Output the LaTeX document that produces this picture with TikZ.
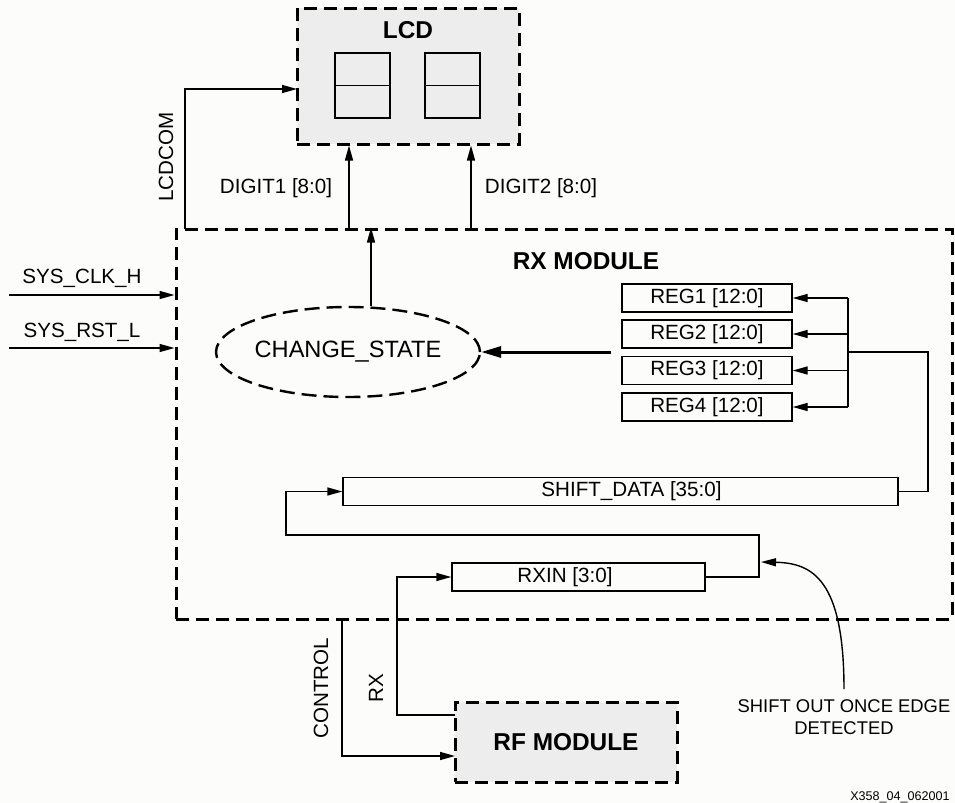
\documentclass[tikz,border=0pt]{standalone}
\usepackage{fontspec}
\setmainfont{Liberation Sans}
\usetikzlibrary{arrows.meta,shapes.geometric}
\definecolor{boxgray}{RGB}{237,237,237}
\definecolor{paper}{RGB}{252,252,250}
\tikzset{
  sig/.style={line width=0.7pt,-{Triangle[length=7.5pt,width=4pt]}},
  wire/.style={line width=0.7pt},
  blk/.style={draw,line width=1.5pt,dash pattern=on 6.5pt off 3.5pt,inner sep=0pt},
  reg/.style={draw,line width=0.7pt,inner sep=0pt,minimum height=14pt,font=\fontsize{10.3}{12}\selectfont},
  lbl/.style={font=\fontsize{10.3}{12}\selectfont,inner sep=0pt},
  ttl/.style={font=\fontsize{12.2}{14}\selectfont\bfseries,inner sep=0pt}
}
\begin{document}
\begin{tikzpicture}[x=0.5pt,y=-0.5pt]
\fill[paper] (0,0) rectangle (955,803);
\useasboundingbox (0,0) rectangle (955,803);
% lcd
\node[blk,fill=boxgray,minimum width=111pt,minimum height=68pt] (lcd) at (408,76) {};
\node[ttl] (lcdt) at (408,30) {LCD};
\node[draw,line width=0.7pt,minimum width=27.5pt,minimum height=32.5pt] (dig1) at (362.5,85.5) {};
\node[draw,line width=0.7pt,minimum width=27.5pt,minimum height=32.5pt] (dig2) at (452.5,85.5) {};
\draw[wire] (dig1.west) -- (dig1.east);
\draw[wire] (dig2.west) -- (dig2.east);
% rx module
\node[blk,minimum width=388pt,minimum height=195pt] (rx) at (564,424) {};
\node[ttl] (rxt) at (586,261) {RX MODULE};
\node[ellipse,draw,line width=1.2pt,dash pattern=on 7.5pt off 3.5pt,minimum width=125pt,minimum height=45pt,inner sep=0pt,font=\fontsize{11.8}{14}\selectfont] (cs) at (348,352) {CHANGE\_STATE};
\foreach \i/\y in {1/298,2/334,3/370.5,4/407}
  \node[reg,minimum width=85pt] (reg\i) at (707,\y) {REG\i{} [12:0]};
\node[reg,minimum width=277.5pt] (shift) at (620.5,491.5) {\hspace*{11pt}SHIFT\_DATA [35:0]};
\node[reg,minimum width=126.5pt] (rxin) at (578.5,577) {RXIN [3:0]\hspace*{13.5pt}};
% rf module
\node[blk,fill=boxgray,minimum width=111pt,minimum height=40pt,font=\fontsize{12.2}{14}\selectfont\bfseries] (rf) at (566,742) {RF MODULE};
% labels
\node[lbl,rotate=90] (lcdcomlbl) at (166,157) {LCDCOM};
\node[lbl] (dig1lbl) at (276,188) {DIGIT1 [8:0]};
\node[lbl] (dig2lbl) at (541,188) {DIGIT2 [8:0]};
\node[lbl] (clklbl) at (82,278) {SYS\_CLK\_H};
\node[lbl] (rstlbl) at (82,332) {SYS\_RST\_L};
\node[lbl,rotate=90] (ctllbl) at (321,688) {CONTROL};
\node[lbl,rotate=90] (rxlbl) at (376,688) {RX};
\node[font=\fontsize{9.2}{11}\selectfont,align=center,inner sep=0pt] (note) at (844,717) {SHIFT OUT ONCE EDGE\\DETECTED};
\node[font=\fontsize{6.3}{8}\selectfont,inner sep=0pt] (fig) at (900,797) {X358\_04\_062001};
% connections to lcd
\coordinate (lcdcom) at (185,229);
\coordinate (lcdin) at (297,89);
\coordinate (d1) at (349,0);
\coordinate (d2) at (471,0);
\coordinate (csup) at (371,0);
\draw[sig] (lcdcom) |- (lcdin);
\draw[sig] (rx.north -| d1) -- (lcd.south -| d1);
\draw[sig] (rx.north -| d2) -- (lcd.south -| d2);
\draw[sig] (cs.north -| csup) -- (rx.north -| csup);
% inputs
\coordinate (clk) at (9,295);
\coordinate (rst) at (9,348);
\draw[sig] (clk) -- (rx.west |- clk);
\draw[sig] (rst) -- (rx.west |- rst);
% registers
\coordinate (regs) at (611,352);
\draw[line width=1.5pt,-{Triangle[length=10pt,width=5.5pt]}] (regs) -- (cs.east);
\coordinate (bus) at (848,352);
\coordinate (busr) at (928,0);
\draw[wire] (reg1.east -| bus) -- (reg4.east -| bus);
\foreach \i in {1,...,4}
  \draw[sig] (reg\i.east -| bus) -- (reg\i.east);
\draw[wire] (bus) -| (busr |- shift.east) -- (shift.east);
% shift loop
\coordinate (loopr) at (759,535);
\coordinate (loopl) at (286,491.5);
\draw[sig] (rxin.east) -| (loopr) -| (loopl) -- (shift.west);
% rf
\coordinate (rxout) at (455,715);
\coordinate (rxup) at (397,577);
\coordinate (ctl) at (342,619);
\coordinate (ctlin) at (455,756);
\draw[sig] (rxout) -| (rxup) -- (rxin.west);
\draw[sig] (ctl) |- (ctlin);
% note
\coordinate (edge) at (761,562);
\draw[sig] ([yshift=5pt]note.north) .. controls +(0,-110) and (812,563) .. (edge);
\end{tikzpicture}
\end{document}
